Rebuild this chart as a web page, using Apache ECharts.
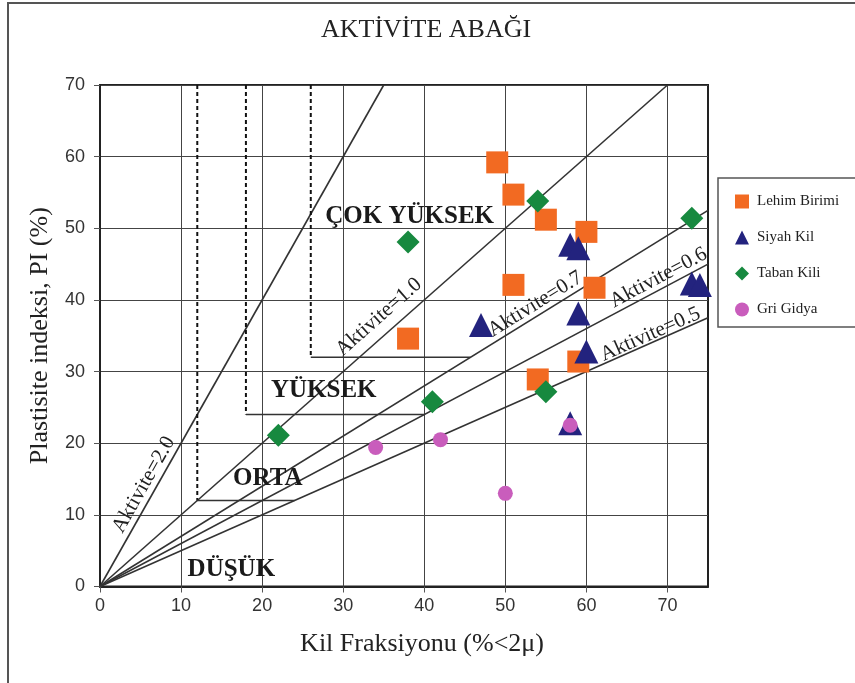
<!DOCTYPE html>
<html>
<head>
<meta charset="utf-8">
<script src="https://cdn.jsdelivr.net/npm/echarts@6/dist/echarts.min.js"></script>
<style>
  html, body { margin: 0; padding: 0; background: #fff; }
  #chart { width: 855px; height: 683px; }
</style>
</head>
<body>
<div id="chart"></div>
<script>
// Axis ticks
const xTicks = [0, 10, 20, 30, 40, 50, 60, 70];
const yTicks = [0, 10, 20, 30, 40, 50, 60, 70];

// Sample groups: [clay fraction %, plasticity index %]
const lehimBirimi = [[49, 59.2], [51, 54.7], [55, 51.2], [60, 49.5], [51, 42.1], [61, 41.7], [38, 34.6], [59, 31.4], [54, 28.9]];
const siyahKil = [[58, 47.7], [59, 47.2], [73, 42.3], [74, 42.1], [47, 36.5], [59, 38.1], [60, 32.8], [58, 22.8]];
const tabanKili = [[54, 53.8], [73, 51.4], [38, 48.1], [41, 25.8], [55, 27.2], [22, 21.1]];
const griGidya = [[34, 19.4], [42, 20.5], [58, 22.5], [50, 13.0]];

// Activity lines PI = A * clay, drawn up to the frame
const activityValues = [2.0, 1.0, 0.7, 0.6, 0.5];
const activityEnds = [[35, 70], [70, 70], [75, 52.5], [75, 45], [75, 37.5]];
const activityLabelAt = [[5.4, 14.2], [34.4, 37.6], [53.7, 39.4], [68.9, 43.1], [67.9, 35.2]];

// Class boundaries: dashed verticals and solid steps
const dashedBounds = [[[12, 70], [12, 12]], [[18, 70], [18, 24]], [[26, 70], [26, 32]]];
const stepBounds = [[[12, 12], [24, 12]], [[18, 24], [40, 24]], [[26, 32], [45.7, 32]]];

// Class names
const classNames = ['ÇOK YÜKSEK', 'YÜKSEK', 'ORTA', 'DÜŞÜK'];
const classLabelAt = [[38.2, 51.6], [27.6, 27.3], [20.7, 15.1], [16.2, 2.4]];

const serif = '"Liberation Serif", "DejaVu Serif", serif';
const sans = '"Liberation Sans", Arial, sans-serif';

const chart = echarts.init(document.getElementById('chart'), null, { renderer: 'canvas' });

function lineSeries(points, dashed) {
  return {
    type: 'line',
    data: points,
    symbol: 'none',
    silent: true,
    z: 3,
    lineStyle: { color: dashed ? '#111' : '#333', width: dashed ? 2 : 1.6, type: dashed ? [4, 3] : 'solid' },
    animation: false
  };
}

const groups = [
  { name: 'Lehim Birimi', data: lehimBirimi, symbol: 'rect', size: 22, color: '#F26A22' },
  { name: 'Siyah Kil', data: siyahKil, symbol: 'triangle', size: 24, color: '#23237E' },
  { name: 'Taban Kili', data: tabanKili, symbol: 'diamond', size: 23, color: '#17893F' },
  { name: 'Gri Gidya', data: griGidya, symbol: 'circle', size: 15, color: '#C95DBC' }
];

const series = [];
activityEnds.forEach(e => series.push(lineSeries([[0, 0], e], false)));
dashedBounds.forEach(b => series.push(lineSeries(b, true)));
stepBounds.forEach(b => series.push(lineSeries(b, false)));
groups.forEach(g => series.push({
  type: 'scatter',
  name: g.name,
  data: g.data,
  symbol: g.symbol,
  symbolSize: g.size,
  itemStyle: { color: g.color, opacity: 1 },
  z: 5,
  animation: false
}));

const frameGraphics = [
  {
    type: 'polyline',
    silent: true,
    shape: { points: [[8, 690], [8, 3], [860, 3]] },
    style: { stroke: '#555', lineWidth: 2, fill: null }
  },
  {
    type: 'rect',
    silent: true,
    shape: { x: 718, y: 178, width: 150, height: 149 },
    style: { stroke: '#555', lineWidth: 1.5, fill: '#fff' },
    z: 0
  }
];

chart.setOption({
  backgroundColor: '#fff',
  animation: false,
  title: {
    text: 'AKTİVİTE ABAĞI',
    left: 316,
    top: 12,
    textStyle: { fontFamily: serif, fontWeight: 'normal', fontSize: 26, color: '#222' }
  },
  legend: {
    data: groups.map(g => ({ name: g.name, icon: g.symbol })),
    orient: 'vertical',
    left: 730,
    top: 189,
    itemWidth: 14,
    itemHeight: 14,
    itemGap: 21,
    textStyle: { fontFamily: serif, fontSize: 15, color: '#222', padding: [0, 0, 0, 3] }
  },
  grid: {
    left: 100, top: 85, width: 608, height: 501.5,
    show: true, borderColor: '#222', borderWidth: 2, backgroundColor: 'transparent'
  },
  xAxis: {
    type: 'value', min: 0, max: 75, interval: 10,
    name: 'Kil Fraksiyonu (%<2μ)',
    nameLocation: 'middle',
    nameGap: 45,
    nameTextStyle: { fontFamily: serif, fontSize: 26, color: '#222', padding: [0, 0, 0, 36] },
    axisLine: { show: true, onZero: false, lineStyle: { color: '#222', width: 2 } },
    axisTick: { show: true, length: 6, customValues: xTicks, lineStyle: { color: '#555' } },
    axisLabel: { customValues: xTicks, fontFamily: sans, fontSize: 18, color: '#333', margin: 11 },
    splitLine: { show: true, lineStyle: { color: '#444', width: 1 } }
  },
  yAxis: {
    type: 'value', min: 0, max: 70, interval: 10,
    name: 'Plastisite indeksi, PI (%)',
    nameLocation: 'middle',
    nameGap: 47,
    nameTextStyle: { fontFamily: serif, fontSize: 26, color: '#222' },
    axisLine: { show: true, onZero: false, lineStyle: { color: '#222', width: 2 } },
    axisTick: { show: true, length: 6, customValues: yTicks, lineStyle: { color: '#555' } },
    axisLabel: { customValues: yTicks, fontFamily: sans, fontSize: 18, color: '#333', margin: 15 },
    splitLine: { show: true, lineStyle: { color: '#444', width: 1 } }
  },
  graphic: frameGraphics,
  series: series
});

// Text on the diagram, anchored at data positions once the grid is laid out
const toPx = v => chart.convertToPixel({ gridIndex: 0 }, v);
const textGraphics = [];
activityValues.forEach((a, i) => {
  const p0 = toPx([0, 0]);
  const p1 = toPx([10, 10 * a]);
  const angle = Math.atan2(p0[1] - p1[1], p1[0] - p0[0]);
  const c = toPx(activityLabelAt[i]);
  textGraphics.push({
    type: 'text',
    silent: true,
    x: c[0], y: c[1],
    rotation: angle,
    z: 4,
    style: {
      text: 'Aktivite=' + a.toFixed(1),
      font: '21px ' + serif,
      fill: '#222',
      align: 'center',
      verticalAlign: 'middle'
    }
  });
});
classNames.forEach((n, i) => {
  const c = toPx(classLabelAt[i]);
  textGraphics.push({
    type: 'text',
    silent: true,
    x: c[0], y: c[1],
    z: 4,
    style: {
      text: n,
      font: 'bold 25px ' + serif,
      fill: '#1a1a1a',
      align: 'center',
      verticalAlign: 'middle'
    }
  });
});
chart.setOption({ graphic: frameGraphics.concat(textGraphics) }, { replaceMerge: ['graphic'] });
</script>
</body>
</html>
